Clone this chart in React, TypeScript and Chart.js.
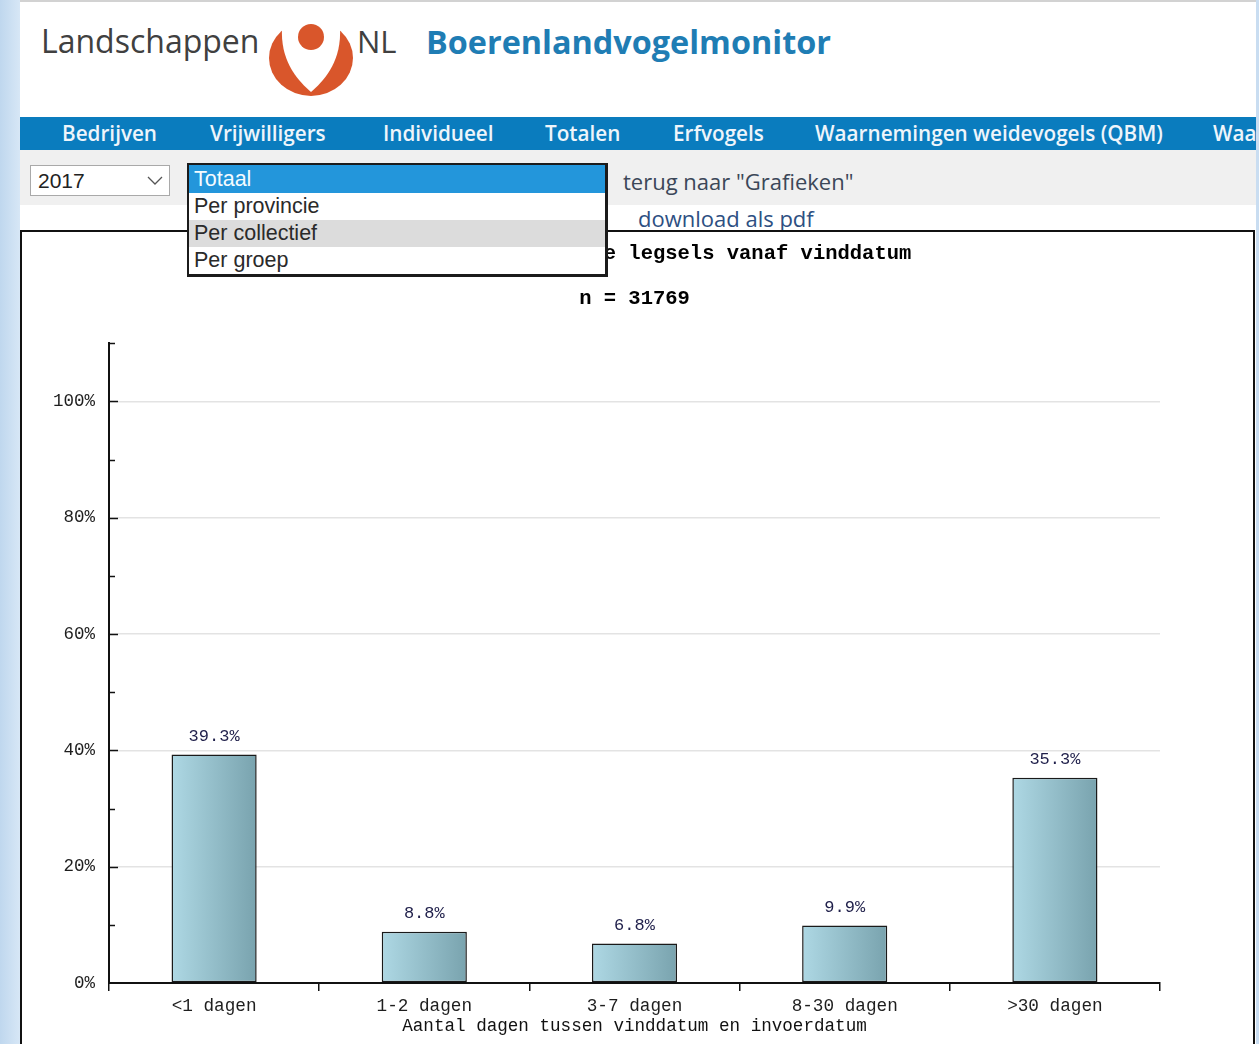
import React, { useEffect, useRef } from 'react';
import { Chart, registerables } from 'chart.js';

Chart.register(...registerables);

// ---------- data ----------
const categories = ['<1 dagen', '1-2 dagen', '3-7 dagen', '8-30 dagen', '>30 dagen'];
const percentages = [39.3, 8.8, 6.8, 9.9, 35.3];
const yMax = 110;
const yStep = 10;
const yLabelStep = 20;
const chartTitle = 'Invoersnelheid van de legsels vanaf vinddatum';
const chartSubtitle = 'n = 31769';
const xAxisTitle = 'Aantal dagen tussen vinddatum en invoerdatum';
const navItems = ['Bedrijven', 'Vrijwilligers', 'Individueel', 'Totalen', 'Erfvogels', 'Waarnemingen weidevogels (QBM)', 'Waa'];
const navLefts = [62, 210, 383, 545, 673, 815, 1213];
const dropdownOptions = ['Totaal', 'Per provincie', 'Per collectief', 'Per groep'];
const yearValue = '2017';

const MONO = '"Liberation Mono", "DejaVu Sans Mono", monospace';
const SANS = '"Open Sans", "DejaVu Sans", sans-serif';
const ARIAL = '"Liberation Sans", Arial, sans-serif';
const BAR_PCT = 0.405;

function BarChart() {
  const ref = useRef<HTMLCanvasElement>(null);
  useEffect(() => {
    const canvas = ref.current;
    if (!canvas) return;

    const valueLabels = {
      id: 'valueLabels',
      afterDatasetsDraw(chart: any) {
        const ctx = chart.ctx;
        const meta = chart.getDatasetMeta(0);
        ctx.save();
        ctx.font = `17px ${MONO}`;
        ctx.fillStyle = '#1f1f4a';
        ctx.textAlign = 'center';
        ctx.textBaseline = 'middle';
        meta.data.forEach((el: any, i: number) => {
          ctx.fillText(percentages[i].toFixed(1) + '%', el.x, el.y - 18);
        });
        ctx.restore();
      },
    };

    const innerTicks = {
      id: 'innerTicks',
      afterDraw(chart: any) {
        const ys = chart.scales.y;
        const ctx = chart.ctx;
        ctx.save();
        ctx.strokeStyle = '#111';
        ctx.lineWidth = 1.5;
        for (const t of ys.ticks) {
          if (t.value === 0) continue;
          const y = Math.round(ys.getPixelForValue(t.value)) + 0.5;
          const len = t.value % yLabelStep === 0 ? 9 : 6;
          ctx.beginPath();
          ctx.moveTo(ys.right, y);
          ctx.lineTo(ys.right + len, y);
          ctx.stroke();
        }
        ctx.restore();
      },
    };

    const chart = new Chart(canvas, {
      type: 'bar',
      data: {
        labels: categories,
        datasets: [
          {
            data: percentages,
            backgroundColor: (c: any) => {
              const ch = c.chart;
              const xs = ch.scales && ch.scales.x;
              if (!xs || c.dataIndex === undefined || !xs.width) return '#94bfca';
              const cx = xs.getPixelForValue(c.dataIndex);
              const w = (xs.width / categories.length) * BAR_PCT;
              const g = ch.ctx.createLinearGradient(cx - w / 2, 0, cx + w / 2, 0);
              g.addColorStop(0, '#aed8e4');
              g.addColorStop(1, '#79a3ae');
              return g;
            },
            borderColor: '#1a1a1a',
            borderWidth: 1.5,
            borderSkipped: false,
            barPercentage: BAR_PCT,
            categoryPercentage: 1,
          },
        ],
      },
      options: {
        responsive: false,
        animation: false,
        devicePixelRatio: 1,
        layout: { padding: { left: 0, right: 93, top: 0, bottom: 0 } },
        plugins: {
          legend: { display: false },
          tooltip: { enabled: false },
          title: {
            display: true,
            text: chartTitle,
            fullSize: false,
            color: '#000',
            font: { family: MONO, size: 20.5, weight: 'bold' },
            padding: { top: 10, bottom: 0 },
          },
          subtitle: {
            display: true,
            text: chartSubtitle,
            fullSize: false,
            color: '#000',
            font: { family: MONO, size: 20.5, weight: 'bold' },
            padding: { top: 20, bottom: 32 },
          },
        },
        scales: {
          x: {
            offset: true,
            grid: {
              offset: true,
              drawOnChartArea: false,
              drawTicks: true,
              tickLength: 8,
              color: '#111',
              lineWidth: 1.5,
            },
            border: { color: '#111', width: 2 },
            ticks: {
              color: '#1e1e1e',
              font: { family: MONO, size: 17.7 },
              padding: 5,
              autoSkip: false,
              maxRotation: 0,
            },
            title: {
              display: true,
              text: xAxisTitle,
              color: '#111',
              font: { family: MONO, size: 17.6 },
              padding: { top: 0, bottom: 7 },
            },
            afterFit: (s: any) => {
              s.height = 61;
            },
          },
          y: {
            min: 0,
            max: yMax,
            ticks: {
              stepSize: yStep,
              autoSkip: false,
              color: '#1e1e1e',
              font: { family: MONO, size: 17.5 },
              padding: 14,
              callback: (v: any) => (Number(v) % yLabelStep === 0 && Number(v) <= 100 ? v + '%' : ''),
            },
            grid: {
              drawTicks: false,
              lineWidth: 1.5,
              color: (c: any) =>
                c.tick && c.tick.value % yLabelStep === 0 && c.tick.value > 0 && c.tick.value <= 100
                  ? '#e3e3e3'
                  : 'rgba(0,0,0,0)',
            },
            border: { color: '#111', width: 2 },
            afterFit: (s: any) => {
              s.width = 87;
            },
          },
        },
      },
      plugins: [valueLabels, innerTicks],
    } as any);
    return () => chart.destroy();
  }, []);
  return (
    <canvas
      ref={ref}
      width={1231}
      height={812}
      style={{ position: 'absolute', left: 22, top: 232, width: 1231, height: 812, zIndex: 1 }}
    />
  );
}

function Logo() {
  return (
    <svg width={92} height={82} viewBox="0 0 92 82" style={{ position: 'absolute', left: 265, top: 18 }}>
      <ellipse cx={46} cy={40} rx={42} ry={38} fill="#d9562b" />
      <path d="M 19 -4 L 73 -4 C 82 38, 60 62, 46 74 C 32 62, 10 38, 19 -4 Z" fill="#fff" />
      <circle cx={46} cy={19} r={13} fill="#d9562b" />
    </svg>
  );
}

export default function App() {
  return (
    <div
      style={{
        position: 'fixed',
        left: 0,
        top: 0,
        width: 1259,
        height: 1044,
        overflow: 'hidden',
        background: '#fff',
      }}
    >
      {/* side strips */}
      <div style={{ position: 'absolute', left: 0, top: 0, width: 20, height: 1044, background: 'linear-gradient(to right, #bfd7ee, #d7e7f6)' }} />
      <div style={{ position: 'absolute', left: 1256, top: 0, width: 3, height: 1044, background: '#c9ddf1' }} />
      <div style={{ position: 'absolute', left: 20, top: 0, width: 1236, height: 2, background: '#d2d2d2' }} />

      {/* header */}
      <div style={{ position: 'absolute', left: 41, top: 20, fontFamily: SANS, fontSize: 32, color: '#404040', lineHeight: '42px' }}>
        Landschappen
      </div>
      <Logo />
      <div style={{ position: 'absolute', left: 357, top: 20, fontFamily: SANS, fontSize: 31, color: '#404040', lineHeight: '42px' }}>
        NL
      </div>
      <div style={{ position: 'absolute', left: 426, top: 20, fontFamily: SANS, fontSize: 32.4, fontWeight: 700, color: '#1f7db4', lineHeight: '42px' }}>
        Boerenlandvogelmonitor
      </div>

      {/* nav bar */}
      <div style={{ position: 'absolute', left: 20, top: 117, width: 1236, height: 33, background: '#0a7cbe' }} />
      {navItems.map((t, i) => (
        <div
          key={t}
          style={{
            position: 'absolute',
            left: navLefts[i],
            top: 117,
            height: 33,
            lineHeight: '33px',
            fontFamily: SANS,
            fontSize: 20.7,
            fontWeight: 600,
            color: '#eef5fb',
            whiteSpace: 'nowrap',
          }}
        >
          {t}
        </div>
      ))}

      {/* gray band */}
      <div style={{ position: 'absolute', left: 20, top: 150, width: 1236, height: 55, background: '#f0f0f0' }} />

      {/* year select */}
      <div
        style={{
          position: 'absolute',
          left: 30,
          top: 165,
          width: 140,
          height: 31,
          boxSizing: 'border-box',
          border: '1px solid #a9a9a9',
          background: '#fff',
          fontFamily: ARIAL,
          fontSize: 21,
          color: '#222',
          lineHeight: '29px',
          paddingLeft: 7,
        }}
      >
        {yearValue}
        <svg width={16} height={10} viewBox="0 0 16 10" style={{ position: 'absolute', left: 116, top: 10 }}>
          <polyline points="1,1 8,8 15,1" fill="none" stroke="#555" strokeWidth={1.3} />
        </svg>
      </div>

      {/* links */}
      <div style={{ position: 'absolute', left: 623, top: 166, fontFamily: SANS, fontSize: 22, color: '#3b4758', lineHeight: '30px', whiteSpace: 'nowrap' }}>
        terug naar "Grafieken"
      </div>
      <div style={{ position: 'absolute', left: 638, top: 203, fontFamily: SANS, fontSize: 22, color: '#2d4f82', lineHeight: '30px', whiteSpace: 'nowrap' }}>
        download als pdf
      </div>

      {/* chart box */}
      <div
        style={{
          position: 'absolute',
          left: 20,
          top: 230,
          width: 1235,
          height: 830,
          boxSizing: 'border-box',
          border: '2px solid #111',
          background: '#fff',
        }}
      />
      <BarChart />

      {/* dropdown list */}
      <div
        style={{
          position: 'absolute',
          left: 187,
          top: 163,
          width: 421,
          height: 114,
          boxSizing: 'border-box',
          border: '2px solid #1b1b1b',
          borderRightWidth: 3,
          borderBottomWidth: 3,
          background: '#fff',
          zIndex: 5,
        }}
      >
        {dropdownOptions.map((o, i) => (
          <div
            key={o}
            style={{
              height: i === 0 ? 28 : 27,
              lineHeight: i === 0 ? '28px' : '27px',
              paddingLeft: 5,
              fontFamily: ARIAL,
              fontSize: 21.5,
              color: i === 0 ? '#f4fbff' : '#2a2a2a',
              background: i === 0 ? '#2396db' : i === 2 ? '#dcdcdc' : '#fff',
              whiteSpace: 'nowrap',
            }}
          >
            {o}
          </div>
        ))}
      </div>
    </div>
  );
}
